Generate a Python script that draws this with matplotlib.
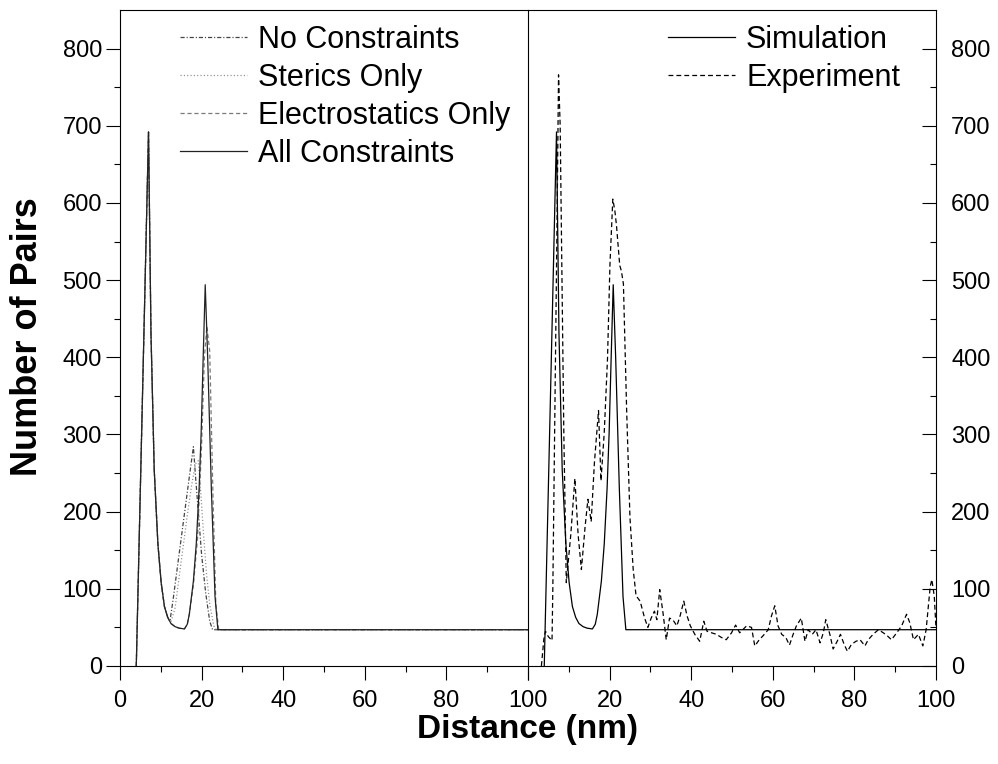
import matplotlib
matplotlib.use("Agg")
import matplotlib.pyplot as plt
from matplotlib.ticker import MultipleLocator, FixedLocator


# Pair-distance histograms (distance in nm, number of pairs)
all_x = [4, 5, 6, 7, 7.6, 8.4, 9.3, 10.1, 10.9, 11.7, 12.5, 13.5, 14.5, 15.8, 16.5, 17.0, 18.0,
         18.7, 19.4, 19.9, 20.4, 20.9, 21.5, 22.4, 23.3, 24, 100]
all_y = [0, 230, 460, 692, 432, 254, 158, 108, 77, 63, 55, 51, 49, 48, 54, 67, 110,
         158, 230, 302, 400, 494, 400, 230, 90, 47, 47]

none_x = [4, 5, 6, 7, 7.6, 8.4, 9.3, 10.1, 10.9, 11.7, 12.3, 13, 14, 15, 16, 17, 18.0,
          18.6, 19.2, 20, 21, 22, 22.7, 100]
none_y = [0, 230, 460, 692, 432, 254, 158, 108, 77, 63, 60, 85, 125, 165, 205, 245, 284,
          240, 200, 145, 95, 58, 47, 47]

sterics_x = [4, 5, 6, 7, 7.6, 8.4, 9.3, 10.1, 10.9, 11.7, 12.5, 13.5, 14.5, 15.5, 16.5, 17.5,
             18.5, 19.2, 19.8, 20.5, 21.2, 22, 23, 23.6, 100]
sterics_y = [0, 230, 460, 692, 432, 254, 158, 108, 77, 63, 57, 75, 115, 155, 195, 232,
             262, 266, 225, 170, 120, 80, 52, 47, 47]

electro_x = [4, 5, 6, 7, 7.6, 8.4, 9.3, 10.1, 10.9, 11.7, 12.5, 13.5, 14.5, 15.8, 16.5, 17.0,
             18.0, 19.0, 20.0, 20.7, 21.3, 22.0, 22.8, 23.5, 24.2, 100]
electro_y = [0, 230, 460, 692, 432, 254, 158, 108, 77, 63, 55, 51, 49, 48, 54, 67,
             105, 165, 285, 400, 440, 408, 220, 80, 47, 47]

exp_x = [3.3, 3.9, 4.3, 5.0, 5.9, 6.1, 6.6, 7.1, 7.5, 7.9, 8.3, 8.8, 9.4, 10.5, 11.5, 12.3,
         13.1, 14.0, 14.7, 15.5, 16.3, 17.3, 17.9, 18.7, 19.5, 20.1, 20.8, 21.3, 21.7, 22.5,
         22.9, 23.4, 24.2, 25.0, 25.8, 26.5, 27.5, 28.6, 29.4, 30.2, 31.0, 31.6, 32.3, 33.1,
         33.9, 34.7, 35.5, 36.5, 37.3, 38.2, 39.0, 39.8, 40.9, 42.1, 43.1, 43.9, 45.0, 46.2,
         47.4, 48.6, 49.9, 50.9, 51.9, 53.6, 54.8, 55.6, 56.7, 57.6, 58.9, 59.7, 60.5, 61.3,
         62.2, 63.2, 64.1, 65.0, 65.8, 67.0, 67.9, 68.7, 69.7, 70.6, 71.6, 72.4, 73.0, 74.0,
         74.8, 75.8, 76.6, 77.5, 78.3, 79.3, 80.4, 81.4, 82.6, 83.4, 84.6, 85.9, 87.1, 88.1,
         89.1, 90.4, 91.6, 92.8, 93.6, 94.5, 95.7, 96.8, 97.6, 98.6, 99.0, 99.6, 100.0]
exp_y = [0, 35, 45, 38, 33, 100, 330, 560, 766, 700, 520, 300, 108, 170, 243, 170,
         125, 180, 216, 187, 264, 331, 240, 302, 398, 520, 605, 590, 571, 519,
         512, 495, 330, 193, 125, 91, 84, 62, 50, 62, 71, 60, 99, 69,
         34, 62, 60, 52, 65, 84, 65, 52, 41, 32, 58, 45, 43, 41,
         37, 34, 43, 53, 43, 52, 50, 26, 34, 39, 47, 65, 78, 52,
         41, 37, 27, 41, 52, 62, 32, 47, 41, 47, 30, 43, 60, 41,
         22, 32, 41, 28, 19, 28, 32, 34, 26, 34, 41, 47, 43, 39,
         34, 43, 52, 67, 56, 34, 41, 26, 47, 103, 112, 90, 50]

left_labels = ["No Constraints", "Sterics Only", "Electrostatics Only", "All Constraints"]
right_labels = ["Simulation", "Experiment"]

plt.rcParams["font.family"] = ["Liberation Sans", "DejaVu Sans"]
plt.rcParams["lines.scale_dashes"] = False

fig = plt.figure(figsize=(9.98, 7.64), dpi=100)
ax1 = fig.add_axes([0.1202, 0.1283, 0.4088, 0.8586])
ax2 = fig.add_axes([0.5290, 0.1283, 0.4088, 0.8586])
ax2.patch.set_visible(False)

lw = 0.9
ax1.plot(none_x, none_y, color="#444444", lw=lw, linestyle=(0, (3.0, 1.4, 0.8, 1.4)),
         label=left_labels[0])
ax1.plot(sterics_x, sterics_y, color="#8a8a8a", lw=lw, linestyle=(0, (0.8, 1.6)),
         label=left_labels[1])
ax1.plot(electro_x, electro_y, color="#7a7a7a", lw=lw, linestyle=(0, (3.0, 2.0)),
         label=left_labels[2])
ax1.plot(all_x, all_y, color="#222222", lw=lw, linestyle="-", label=left_labels[3])

ax2.plot(all_x, all_y, color="black", lw=lw, linestyle="-", label=right_labels[0])
ax2.plot(exp_x, exp_y, color="black", lw=lw, linestyle=(0, (3.5, 2.2)), label=right_labels[1])

for ax in (ax1, ax2):
    ax.set_xlim(0, 100)
    ax.set_ylim(0, 850)
    ax.xaxis.set_major_locator(MultipleLocator(20))
    ax.xaxis.set_minor_locator(MultipleLocator(10))
    ax.yaxis.set_major_locator(FixedLocator(range(0, 801, 100)))
    ax.yaxis.set_minor_locator(FixedLocator(range(50, 801, 100)))
    ax.tick_params(axis="x", which="major", direction="out", length=10, width=0.8,
                   labelsize=17, pad=7)
    ax.tick_params(axis="x", which="minor", direction="out", length=4.5, width=0.8)
    for sp in ax.spines.values():
        sp.set_linewidth(0.8)

ax1.tick_params(axis="y", which="major", direction="out", length=10, width=0.8,
                labelsize=17, pad=3)
ax1.tick_params(axis="y", which="minor", direction="out", length=4.5, width=0.8)

# right panel: values on the right, inward ticks, shared middle edge comes from ax1
ax2.spines["left"].set_visible(False)
ax2.yaxis.tick_right()
ax2.tick_params(axis="y", which="major", direction="in", length=10, width=0.8,
                labelsize=17, pad=11, left=False)
ax2.tick_params(axis="y", which="minor", direction="in", length=4.5, width=0.8, left=False)
ax2.set_xticks([0, 20, 40, 60, 80, 100])
ax2.set_xticklabels(["", "20", "40", "60", "80", "100"])

leg_kw = dict(frameon=False, fontsize=22, handlelength=2.2, handletextpad=0.36,
              labelspacing=0.26, borderpad=0, borderaxespad=0, loc="upper left")
ax1.legend(bbox_to_anchor=(0.147, 0.977), **leg_kw)
ax2.legend(bbox_to_anchor=(0.343, 0.977), **leg_kw)

fig.text(0.529, 0.045, "Distance (nm)", ha="center", va="center", fontsize=24,
         fontweight="bold")
fig.text(0.028, 0.559, "Number of Pairs", ha="center", va="center", rotation=90,
         fontsize=26, fontweight="bold")

fig.savefig("out.png", dpi=100)
